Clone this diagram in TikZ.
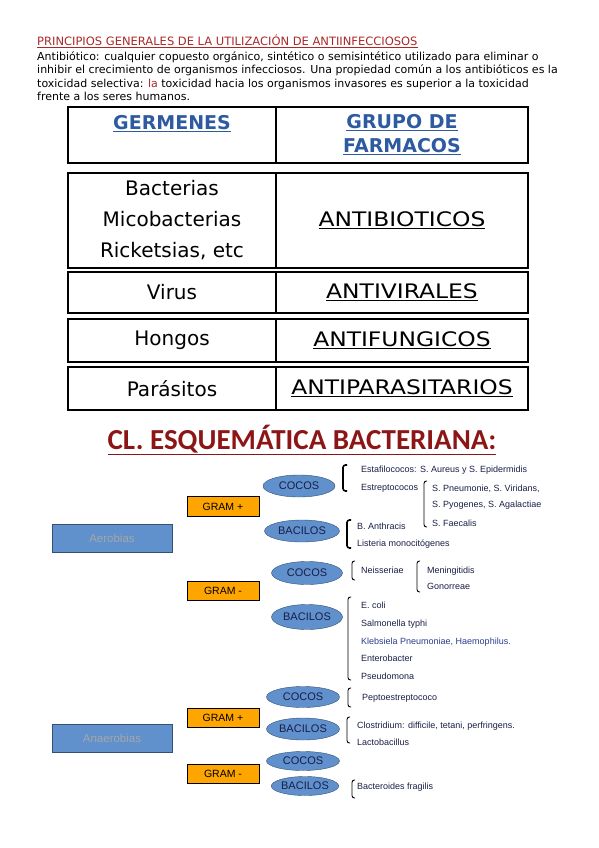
\documentclass[tikz,border=0pt]{standalone}
\usepackage{fontspec}
\setmainfont{DejaVu Sans}
\newfontfamily\arialfont{Liberation Sans}
\newfontfamily\calfont{Carlito}
\newfontfamily\anchafont[FakeStretch=1.17]{DejaVu Sans}
\usepackage{tikz}
\usetikzlibrary{positioning, shapes.geometric}
\usepackage{xcolor}

\definecolor{headred}{RGB}{170,40,40}
\definecolor{titlered}{RGB}{140,22,22}
\definecolor{tblue}{RGB}{45,90,160}
\definecolor{boxblue}{RGB}{96,145,205}
\definecolor{gramorange}{RGB}{255,165,0}
\definecolor{navytxt}{RGB}{25,30,70}
\definecolor{klebblue}{RGB}{40,60,140}

\begin{document}
\begin{tikzpicture}[
    x=1pt, y=-1pt,
    every node/.style={inner sep=0pt},
    hcell/.style={draw, line width=1.8pt},
    cell/.style={draw, line width=2.6pt},
    izq/.style={font=\fontsize{20}{31}\selectfont, align=center},
    der/.style={font=\anchafont\fontsize{20}{24}\selectfont, align=center},
    cabecera/.style={font=\bfseries\fontsize{19}{24}\selectfont, text=tblue, align=center},
    grupo/.style={fill=boxblue, draw=boxblue!55!black, minimum width=120, minimum height=28,
                  font=\arialfont\fontsize{11.5}{13}\selectfont, text=black!35},
    gram/.style={fill=gramorange, draw=black, thick, minimum width=72, minimum height=19.5,
                 font=\arialfont\fontsize{10.5}{12}\selectfont},
    forma/.style={ellipse, fill=boxblue, draw=boxblue!55!black, minimum width=72, minimum height=22,
                  font=\arialfont\fontsize{11}{12}\selectfont, text=navytxt},
    lista/.style={anchor=base west, font=\arialfont\fontsize{9}{10}\selectfont, text=navytxt},
    brk/.style={draw, line width=0.9pt, rounded corners=2.5pt},
    brkgrueso/.style={brk, line width=1.6pt},
]
\useasboundingbox (0,0) rectangle (599,848);

% ── Heading and text ──
\node[anchor=base west, text=headred, font=\fontsize{11.5}{12}\selectfont]
    (titulo) at (37,46) {\underline{PRINCIPIOS GENERALES DE LA UTILIZACIÓN DE ANTIINFECCIOSOS}};
\node[anchor=north west, align=left, font=\fontsize{11}{13.5}\selectfont]
    (parrafo) at (37,51.5) {Antibiótico: cualquier copuesto orgánico, sintético o semisintético utilizado para eliminar o\\
    inhibir el crecimiento de organismos infecciosos. Una propiedad común a los antibióticos es la\\
    toxicidad selectiva: \textcolor{headred}{la} toxicidad hacia los organismos invasores es superior a la toxicidad\\
    frente a los seres humanos.};

% ── Table ──
\node[hcell, minimum width=208, minimum height=56] (hgerm) at (172,135) {};
\node[hcell, minimum width=252, minimum height=56] (hgrupo) at (402,135) {};
\node[cabecera] at (172,124) {\underline{GERMENES}};
\node[cabecera] at (hgrupo) {\underline{GRUPO DE}\\\underline{FARMACOS}};

\node[cell, izq, minimum width=208, minimum height=95] (germ1) at (172,220.5) {Bacterias\\Micobacterias\\Ricketsias, etc};
\node[cell, der, minimum width=252, minimum height=95] (farm1) at (402,220.5) {\underline{ANTIBIOTICOS}};

\node[cell, izq, minimum width=208, minimum height=41] (germ2) at (172,292.5) {Virus};
\node[cell, der, minimum width=252, minimum height=41] (farm2) at (402,292.5) {\underline{ANTIVIRALES}};

\node[cell, izq, minimum width=208, minimum height=43] (germ3) at (172,340.5) {Hongos};
\node[cell, der, minimum width=252, minimum height=43] (farm3) at (402,340.5) {\underline{ANTIFUNGICOS}};

\node[cell, izq, minimum width=208, minimum height=43] (germ4) at (172,388.5) {Parásitos};
\node[cell, der, minimum width=252, minimum height=43] (farm4) at (402,388.5) {\underline{ANTIPARASITARIOS}};

% ── Scheme title ──
\node[text=titlered, font=\calfont\bfseries\fontsize{29}{32}\selectfont]
    (esquema) at (302,440) {\underline{CL. ESQUEMÁTICA BACTERIANA:}};

% ── Aerobias ──
\node[grupo] (aerob) at (112,538.5) {Aerobias};
\node[gram] (gpA) at (223,506.5) {GRAM +};
\node[gram] (gnA) at (223,591) {GRAM -};

\node[forma] (cocA1) at (299,486) {COCOS};
\node[forma, minimum width=75] (bacA1) at (302,531) {BACILOS};
\node[forma, minimum width=71, minimum height=23] (cocA2) at (307,573) {COCOS};
\node[forma, minimum width=71, minimum height=25] (bacA2) at (307,617) {BACILOS};

% ── Anaerobias ──
\node[grupo] (anaerob) at (112,738) {Anaerobias};
\node[gram] (gpN) at (223,718) {GRAM +};
\node[gram] (gnN) at (223,774) {GRAM -};

\node[forma, minimum width=73, minimum height=21] (cocN1) at (303,697) {COCOS};
\node[forma, minimum width=73] (bacN1) at (303,729) {BACILOS};
\node[forma, minimum width=73, minimum height=19] (cocN2) at (303,761) {COCOS};
\node[forma, minimum width=66, minimum height=19] (bacN2) at (305,786) {BACILOS};

% ── Lists ──
\draw[brkgrueso] (347,465) -- (343,465) -- (343,491) -- (347,491);
\node[lista] (estaf) at (361,472.5) {Estafilococos: S. Aureus y S. Epidermidis};
\node[lista] (estrep) at (361,490.5) {Estreptococos};
\draw[brk] (427,481) -- (424,481) -- (424,527) -- (427,527);
\node[lista] (pneu) at (432,491.5) {S. Pneumonie, S. Viridans,};
\node[lista] (pyog) at (432,507.5) {S. Pyogenes, S. Agalactiae};
\node[lista] (faec) at (432,526.5) {S. Faecalis};

\draw[brkgrueso] (351,520) -- (347,520) -- (347,548) -- (351,548);
\node[lista] (anthr) at (357,529.5) {B. Anthracis};
\node[lista] (lister) at (357,546.5) {Listeria monocitógenes};

\draw[brk] (355,561) -- (352,561) -- (352,580) -- (355,580);
\node[lista] (neis) at (361,573.5) {Neisseriae};
\draw[brk] (420,561) -- (417,561) -- (417,592) -- (420,592);
\node[lista] (menin) at (427,573.5) {Meningitidis};
\node[lista] (gono) at (427,589.5) {Gonorreae};

\draw[brk] (351,597) -- (348,597) -- (348,680) -- (351,680);
\node[lista] (ecoli) at (361,608.5) {E. coli};
\node[lista] (salm) at (361,626.5) {Salmonella typhi};
\node[lista, text=klebblue] (kleb) at (361,644.5) {Klebsiela Pneumoniae, Haemophilus.};
\node[lista] (entero) at (361,661.5) {Enterobacter};
\node[lista] (pseudo) at (361,679.5) {Pseudomona};

\draw[brk] (351,688) -- (348,688) -- (348,707) -- (351,707);
\node[lista] (pepto) at (362,700.5) {Peptoestreptococo};

\draw[brk] (350,717) -- (347,717) -- (347,743) -- (350,743);
\node[lista] (clost) at (357,728.5) {Clostridium: difficile, tetani, perfringens.};
\node[lista] (lacto) at (357,745.5) {Lactobacillus};

\draw[brk] (355,780) -- (352,780) -- (352,798) -- (355,798);
\node[lista] (bacter) at (357,789.5) {Bacteroides fragilis};

\end{tikzpicture}
\end{document}
